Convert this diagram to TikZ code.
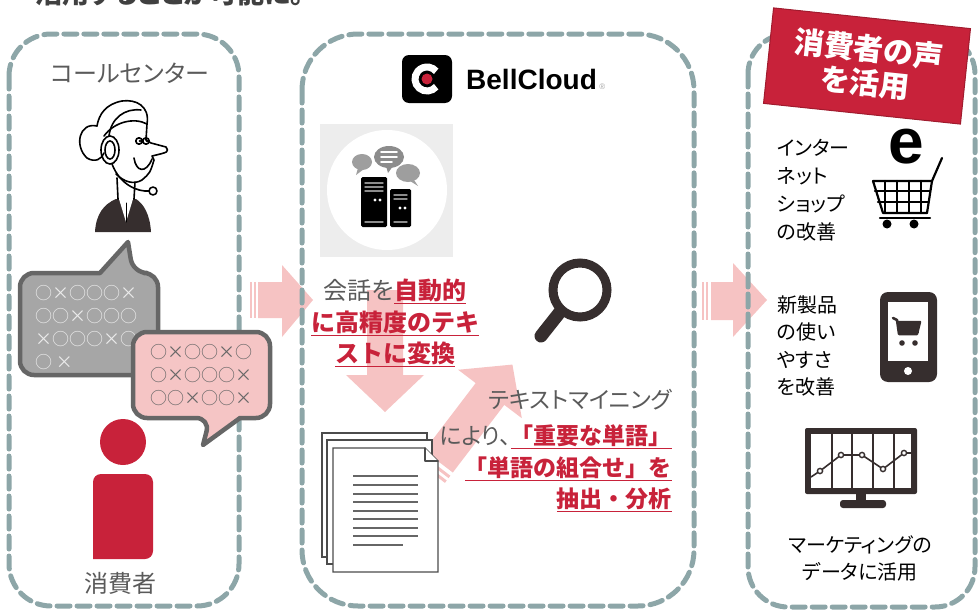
\documentclass[tikz,border=0pt]{standalone}
\usepackage{fontspec}
\setmainfont{Noto Sans CJK JP}[RawFeature=+palt]
\newfontfamily\fullwidth{Noto Sans CJK JP}
\newfontfamily\logofont{Liberation Sans}
\usetikzlibrary{positioning}

\definecolor{frameteal}{HTML}{8DA6A8}
\definecolor{arrowpink}{HTML}{F6C3C3}
\definecolor{voicered}{HTML}{C8223A}
\definecolor{txtgray}{HTML}{5A5A5A}
\definecolor{bubblegray}{HTML}{A6A6A6}
\definecolor{bubbleedge}{HTML}{666666}
\definecolor{bubblepink}{HTML}{F5C5C5}
\definecolor{icondark}{HTML}{362E2E}

\newcommand{\redul}[1]{{\fullwidth\color{voicered}\bfseries\underline{#1}}}

\tikzset{
  panel/.style={draw=frameteal,line width=5pt,dash pattern=on 13pt off 7pt},
  bubble/.style={draw=bubbleedge,line width=4.5pt,line join=round},
  lbl/.style={inner sep=0pt,text=txtgray,font=\fontsize{24}{31.5}\selectfont},
  smalllbl/.style={inner sep=0pt,text=black,align=left,font=\fontsize{20}{28}\selectfont},
  marks/.style={inner sep=0pt,align=left,font=\fontsize{17}{23}\selectfont},
  page/.style={draw=black!70,fill=white,line width=1.4pt}
}

\begin{document}
\begin{tikzpicture}[x=1pt,y=-1pt,line cap=round]
  \useasboundingbox (0,0) rectangle (978,613);

  \node[anchor=base west,inner sep=0pt,text=black!75,font=\fontsize{27}{27}\selectfont\bfseries] (lead) at (35,4) {活用することが可能に。};

  % block arrows go under the frames and texts
  \fill[arrowpink] (250,282) rectangle (252,318);
  \fill[arrowpink] (254,282) rectangle (256,318);
  \fill[arrowpink] (258,282) -- (282,282) -- (282,265) -- (313,300) -- (282,337) -- (282,318) -- (258,318) -- cycle;
  \fill[arrowpink] (702,282) rectangle (704,320);
  \fill[arrowpink] (706,282) rectangle (708,320);
  \fill[arrowpink] (711,282) -- (733,282) -- (733,263) -- (767,300) -- (733,337) -- (733,320) -- (711,320) -- cycle;
  \fill[arrowpink] (367,290) -- (403,290) -- (403,375) -- (424,375) -- (385,412) -- (346,375) -- (367,375) -- cycle;
  \begin{scope}[shift={(490,394)},rotate=52.7]
    \fill[arrowpink] (-85,-18) -- (0,-18) -- (0,-40) -- (37,0) -- (0,40) -- (0,18) -- (-85,18) -- cycle;
    \fill[arrowpink] (-92,-18) rectangle (-89,18);
    \fill[arrowpink] (-98,-18) rectangle (-95,18);
  \end{scope}

  % three frames
  \draw[panel,rounded corners=42pt] (9,34) rectangle (239,606);
  \draw[panel,rounded corners=56pt] (302,34) rectangle (694,606);
  \draw[panel,rounded corners=40pt] (748,34) rectangle (975,607);

  % call center side
  \node[lbl] (center) at (130,73) {コールセンター};

  \fill[icondark] (95,232) .. controls (96,214) and (104,204) .. (116,199) -- (136,199) .. controls (144,204) and (150,215) .. (151,232) -- cycle;
  \fill[white] (119,199) -- (126,222) -- (133,199) -- cycle;
  \draw[line width=1pt] (126,203) -- (126,222);
  \begin{scope}[line width=1.6pt,line join=round]
    \draw (117,178) -- (118,199);
    \draw (135,182) -- (134,199);
    \draw (147,124) -- (146,140) -- (151,143) -- (166,147) .. controls (169,152) .. (152,156)
          -- (154,160) .. controls (150,173) .. (142,180) .. controls (134,185) and (124,182) .. (116,174);
    \draw (134,158) .. controls (136,172) and (146,174) .. (152,159);
    \draw (139,141) circle (3.2) (146,141) circle (3.2);
    \fill (140,141) circle (1.4) (147,141) circle (1.4);
    \draw (147,124) .. controls (150,106) and (136,99) .. (122,101) .. controls (106,104) and (99,114) .. (97,126);
    \draw (97,126) .. controls (79,122) and (74,146) .. (87,158) .. controls (95,163) and (102,159) .. (104,153);
    \draw (147,124) .. controls (134,117) and (114,122) .. (104,136);
    \draw (110,150) ellipse (9 and 14);
    \draw (110,150) ellipse (5 and 9);
    \draw (109,136) .. controls (111,118) and (125,108) .. (141,110);
    \draw (112,164) .. controls (120,185) and (138,192) .. (149,191);
    \draw (153,191) circle (4);
  \end{scope}

  \filldraw[bubble,fill=bubblegray] (60,273) [rounded corners=14pt] -- (20,273) -- (20,375) -- (158,375) -- (158,273) -- (133,273) [sharp corners] -- (128,242) -- (100,273) -- cycle;
  \node[marks,text=white!92!black,anchor=west] (grayvoice) at (35,327.5) {○×○○○×\\○○×○○○\\×○○○×○\\○ ×};

  \filldraw[bubble,fill=bubblepink] (170,332) [rounded corners=14pt] -- (133,332) -- (133,418) -- (210,418) [sharp corners] -- (203,445) -- (240,418) [rounded corners=14pt] -- (270,418) -- (270,332) -- cycle;
  \node[marks,text=bubbleedge,anchor=west] (pinkvoice) at (150,375.5) {○×○○×○\\○×○○○×\\○○×○○×};

  \fill[voicered] (123,442) circle (23);
  \fill[voicered,rounded corners=8pt] (93,559) -- (93,474) -- (153,474) -- (153,559) [sharp corners] -- cycle;
  \node[lbl] (consumer) at (120,583) {消費者};

  % BellCloud side
  \fill[black,rounded corners=7pt] (402,55) rectangle (452,103);
  \draw[white,line width=7pt,line cap=butt] (427,79) ++(40:12) arc (40:320:12);
  \fill[voicered] (427,79) circle (5.5);
  \node[anchor=west,inner sep=0pt,font=\logofont\fontsize{28}{28}\selectfont\bfseries] (bell) at (466,79) {BellCloud};
  \node[right=2pt of bell.base east,anchor=base west,inner sep=0pt,text=black!35,font=\logofont\fontsize{8}{8}\selectfont] (reg) {®};

  \fill[black!7] (320,124) rectangle (453,257);
  \fill[white] (387,190) circle (60);
  \fill[black!38] (362,162) ellipse (10 and 8);
  \fill[black!38] (358,168) -- (356,175) -- (364,169) -- cycle;
  \fill[black!38] (408,173) ellipse (12 and 9);
  \fill[black!38] (414,180) -- (418,186) -- (410,181) -- cycle;
  \fill[black!45] (389,157) ellipse (15 and 11);
  \fill[black!45] (386,166) -- (388,173) -- (393,166) -- cycle;
  \draw[white,line width=1.6pt] (381,152) -- (397,152) (381,157) -- (397,157) (381,162) -- (392,162);
  \fill[black,rounded corners=1.5pt] (361,177) rectangle (387,227);
  \fill[black,rounded corners=1.5pt] (390,189) rectangle (411,227);
  \draw[black!45,line width=1.4pt] (365,183) -- (383,183) (365,187) -- (383,187) (365,191) -- (383,191) (365,222) -- (383,222)
        (394,195) -- (407,195) (394,199) -- (407,199) (394,222) -- (407,222);
  \fill[white] (375,200) circle (1.6) (380,200) circle (1.6) (400,208) circle (1.6) (405,208) circle (1.6);

  \node[lbl,align=center] (convert) at (395,323) {会話を\redul{自動的}\\\redul{に高精度のテキ}\\\redul{ストに変換}};

  \draw[icondark,line width=9pt] (580,290) circle (27);
  \draw[icondark,line width=13pt] (560,312) -- (541,336);

  \node[lbl,anchor=east,font=\fontsize{23}{23}\selectfont] (mining) at (672,400) {テキストマイニング};
  \node[lbl,anchor=east,align=right,font=\fontsize{23}{31.5}\selectfont] (extract) at (672,468.5) {により、\redul{「重要な単語」}\\\redul{「単語の組合せ」を}\\\redul{抽出・分析}};

  \draw[page] (322,433) rectangle (427,557);
  \draw[page] (327,440) rectangle (432,564);
  \draw[page] (333,448) -- (425,448) -- (438,461) -- (438,572) -- (333,572) -- cycle;
  \draw[page,line join=round] (425,448) -- (425,461) -- (438,461);
  \foreach \ly in {476,485,494,502,511,519,528,536}
    \draw[black!60,line width=1.6pt,line cap=butt] (353,\ly) -- (418,\ly);
  \draw[black!60,line width=1.6pt,line cap=butt] (353,545) -- (403,545);

  % using the voice
  \node[rotate=-6,fill=voicered,draw=voicered!80!black,line width=1pt,minimum width=198pt,minimum height=96pt,
        align=center,text=white,font=\fontsize{30}{34}\selectfont\bfseries] (voice) at (867,66) {消費者の声\\を活用};

  \node[smalllbl,anchor=west] (shop) at (777,190) {インター\\ネット\\ショップ\\の改善};
  \node[inner sep=0pt,font=\logofont\fontsize{64}{64}\selectfont\bfseries] (eletter) at (906,147) {e};
  \begin{scope}[black,line width=2.2pt,line join=round]
    \draw (942,158) -- (932,181) -- (873,181) -- (883,213) -- (927,213);
    \draw (932,181) -- (927,213);
    \draw (875,191) -- (930,191) (878,202) -- (928,202);
    \foreach \gx in {885,897,909,921}
      \draw (\gx,181) -- (\gx,213);
    \draw (880,218) -- (930,218);
    \fill (887,224) circle (4.5) (914,224) circle (4.5);
  \end{scope}

  \node[smalllbl,anchor=west,font=\fontsize{20}{27.3}\selectfont] (product) at (777,346) {新製品\\の使い\\やすさ\\を改善};
  \fill[icondark,rounded corners=8pt] (880,292) rectangle (937,382);
  \fill[white] (888,302) rectangle (928,361);
  \fill[white] (908,371) circle (4);
  \draw[icondark,line width=2.5pt,line join=round] (893,318) -- (897,320) -- (899,334) -- (917,334) -- (920,322) -- (898,322);
  \fill[icondark] (898,322) rectangle (919,333);
  \fill[icondark] (902,343) circle (2.8) (915,343) circle (2.8);

  \fill[icondark,rounded corners=2pt] (805,428) rectangle (917,494);
  \fill[white] (811,434) rectangle (911,488);
  \foreach \vx in {832,852,873,894}
    \draw[icondark,line width=1.6pt] (\vx,434) -- (\vx,488);
  \draw[icondark,line width=1.6pt] (811,477) -- (820,471) -- (841,455) -- (862,455) -- (883,469) -- (904,453) -- (911,453);
  \foreach \px/\py in {820/471,841/455,862/455,883/469,904/453}
    \filldraw[fill=white,draw=icondark,line width=1.4pt] (\px,\py) circle (2.6);
  \fill[icondark] (856,494) rectangle (866,502);
  \fill[icondark,rounded corners=3pt] (840,500) rectangle (886,508);

  \node[smalllbl,align=center,font=\fontsize{20}{27}\selectfont] (marketing) at (860,558) {マーケティングの\\データに活用};
\end{tikzpicture}
\end{document}
